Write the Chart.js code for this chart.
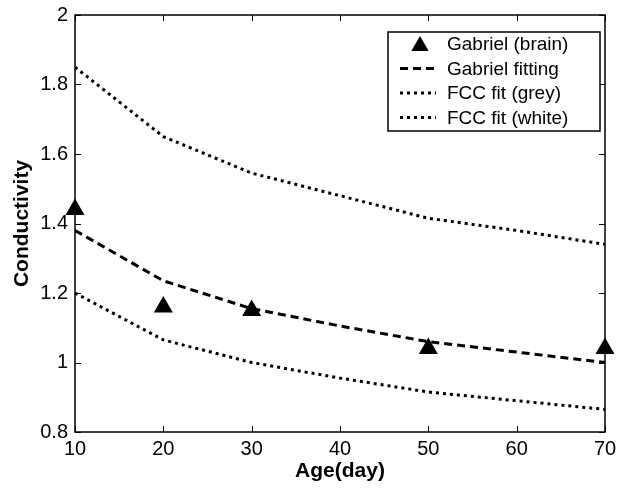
<!DOCTYPE html>
<html>
<head>
<meta charset="utf-8">
<script src="https://cdn.jsdelivr.net/npm/chart.js@4.4.1/dist/chart.umd.min.js"></script>
<style>
  html, body { margin: 0; padding: 0; background: #fff; }
  #wrap { width: 627px; height: 488px; }
</style>
</head>
<body>
<div id="wrap"><canvas id="chart" width="627" height="488"></canvas></div>
<script>
// Data
const ageFit = [10, 20, 30, 40, 50, 60, 70];
const agePoints = [10, 20, 30, 50, 70];
const gabrielBrain = [1.44, 1.16, 1.15, 1.04, 1.04];
const gabrielFitting = [1.38, 1.235, 1.155, 1.105, 1.06, 1.03, 1.0];
const fccGrey = [1.85, 1.65, 1.545, 1.48, 1.415, 1.38, 1.34];
const fccWhite = [1.2, 1.065, 1.0, 0.955, 0.915, 0.89, 0.865];
const yTicks = [0.8, 1, 1.2, 1.4, 1.6, 1.8, 2];
const xTicks = [10, 20, 30, 40, 50, 60, 70];

const FONT = '"Liberation Sans", Arial, sans-serif';

const toXY = (xs, ys) => xs.map((x, i) => ({ x: x, y: ys[i] }));

function triangle(ctx, x, y, r) {
    ctx.beginPath();
    ctx.moveTo(x, y - r);
    ctx.lineTo(x + r * 0.866, y + r / 2);
    ctx.lineTo(x - r * 0.866, y + r / 2);
    ctx.closePath();
    ctx.fill();
    ctx.stroke();
}

// Box, inward ticks and legend (MATLAB style)
const matlabFrame = {
    id: 'matlabFrame',
    afterDraw(chart) {
        const { ctx, chartArea: a, scales } = chart;
        ctx.save();
        ctx.strokeStyle = '#000';
        ctx.lineWidth = 1.5;
        ctx.strokeRect(a.left, a.top, a.right - a.left, a.bottom - a.top);
        ctx.lineWidth = 1;
        const tl = 6;
        ctx.beginPath();
        xTicks.forEach(v => {
            const px = Math.round(scales.x.getPixelForValue(v)) + 0.5;
            ctx.moveTo(px, a.bottom); ctx.lineTo(px, a.bottom - tl);
            ctx.moveTo(px, a.top); ctx.lineTo(px, a.top + tl);
        });
        yTicks.forEach(v => {
            const py = Math.round(scales.y.getPixelForValue(v)) + 0.5;
            ctx.moveTo(a.left, py); ctx.lineTo(a.left + tl, py);
            ctx.moveTo(a.right, py); ctx.lineTo(a.right - tl, py);
        });
        ctx.stroke();

        // legend
        const lx = 388, ly = 32, lw = 212, lh = 99;
        ctx.fillStyle = '#fff';
        ctx.fillRect(lx, ly, lw, lh);
        ctx.lineWidth = 1.5;
        ctx.strokeRect(lx, ly, lw, lh);
        const rows = chart.data.datasets;
        ctx.font = '19px ' + FONT;
        ctx.textBaseline = 'middle';
        rows.forEach((ds, i) => {
            const cy = ly + 12 + i * 24.5;
            ctx.fillStyle = '#000';
            ctx.fillText(ds.label, lx + 59, cy + 1);
            ctx.strokeStyle = '#000';
            if (ds.showLine === false) {
                ctx.lineWidth = 3;
                triangle(ctx, lx + 32, cy + 2, 7);
            } else {
                ctx.lineWidth = ds.borderWidth;
                ctx.setLineDash(ds.borderDash);
                ctx.beginPath();
                ctx.moveTo(lx + 12, cy);
                ctx.lineTo(lx + 48, cy);
                ctx.stroke();
                ctx.setLineDash([]);
            }
        });
        ctx.restore();
    }
};

new Chart(document.getElementById('chart'), {
    type: 'scatter',
    data: {
        datasets: [
            {
                label: 'Gabriel (brain)',
                data: toXY(agePoints, gabrielBrain),
                showLine: false,
                pointStyle: 'triangle',
                pointRadius: 8,
                borderWidth: 3,
                borderColor: '#000',
                backgroundColor: '#000',
                clip: false
            },
            {
                label: 'Gabriel fitting',
                data: toXY(ageFit, gabrielFitting),
                showLine: true,
                borderColor: '#000',
                borderWidth: 3,
                borderDash: [8, 5],
                pointRadius: 0
            },
            {
                label: 'FCC fit (grey)',
                data: toXY(ageFit, fccGrey),
                showLine: true,
                borderColor: '#000',
                borderWidth: 3,
                borderDash: [3, 4],
                pointRadius: 0
            },
            {
                label: 'FCC fit (white)',
                data: toXY(ageFit, fccWhite),
                showLine: true,
                borderColor: '#000',
                borderWidth: 3,
                borderDash: [3, 4],
                pointRadius: 0
            }
        ]
    },
    options: {
        responsive: false,
        animation: false,
        layout: { padding: { top: 15, right: 22, left: 0, bottom: 0 } },
        plugins: {
            legend: { display: false },
            tooltip: { enabled: false }
        },
        scales: {
            x: {
                type: 'linear',
                min: 10,
                max: 70,
                afterBuildTicks: s => { s.ticks = xTicks.map(v => ({ value: v })); },
                afterFit: s => { s.height = 56; },
                grid: { display: false, drawTicks: false },
                border: { display: false },
                ticks: {
                    color: '#000',
                    padding: 5,
                    font: { family: FONT, size: 20 },
                    maxRotation: 0
                },
                title: {
                    display: true,
                    text: 'Age(day)',
                    color: '#000',
                    font: { family: FONT, size: 21, weight: 'bold' },
                    padding: { top: 4 }
                }
            },
            y: {
                min: 0.8,
                max: 2,
                afterBuildTicks: s => { s.ticks = yTicks.map(v => ({ value: v })); },
                afterFit: s => { s.width = 75; s.paddingTop = 0; s.paddingBottom = 0; },
                grid: { display: false, drawTicks: false },
                border: { display: false },
                ticks: {
                    color: '#000',
                    padding: 7,
                    font: { family: FONT, size: 20 },
                    callback: v => String(Math.round(v * 10) / 10)
                },
                title: {
                    display: true,
                    text: 'Conductivity',
                    color: '#000',
                    font: { family: FONT, size: 21, weight: 'bold' },
                    padding: { top: 10, bottom: 0 }
                }
            }
        }
    },
    plugins: [matlabFrame]
});
</script>
</body>
</html>
